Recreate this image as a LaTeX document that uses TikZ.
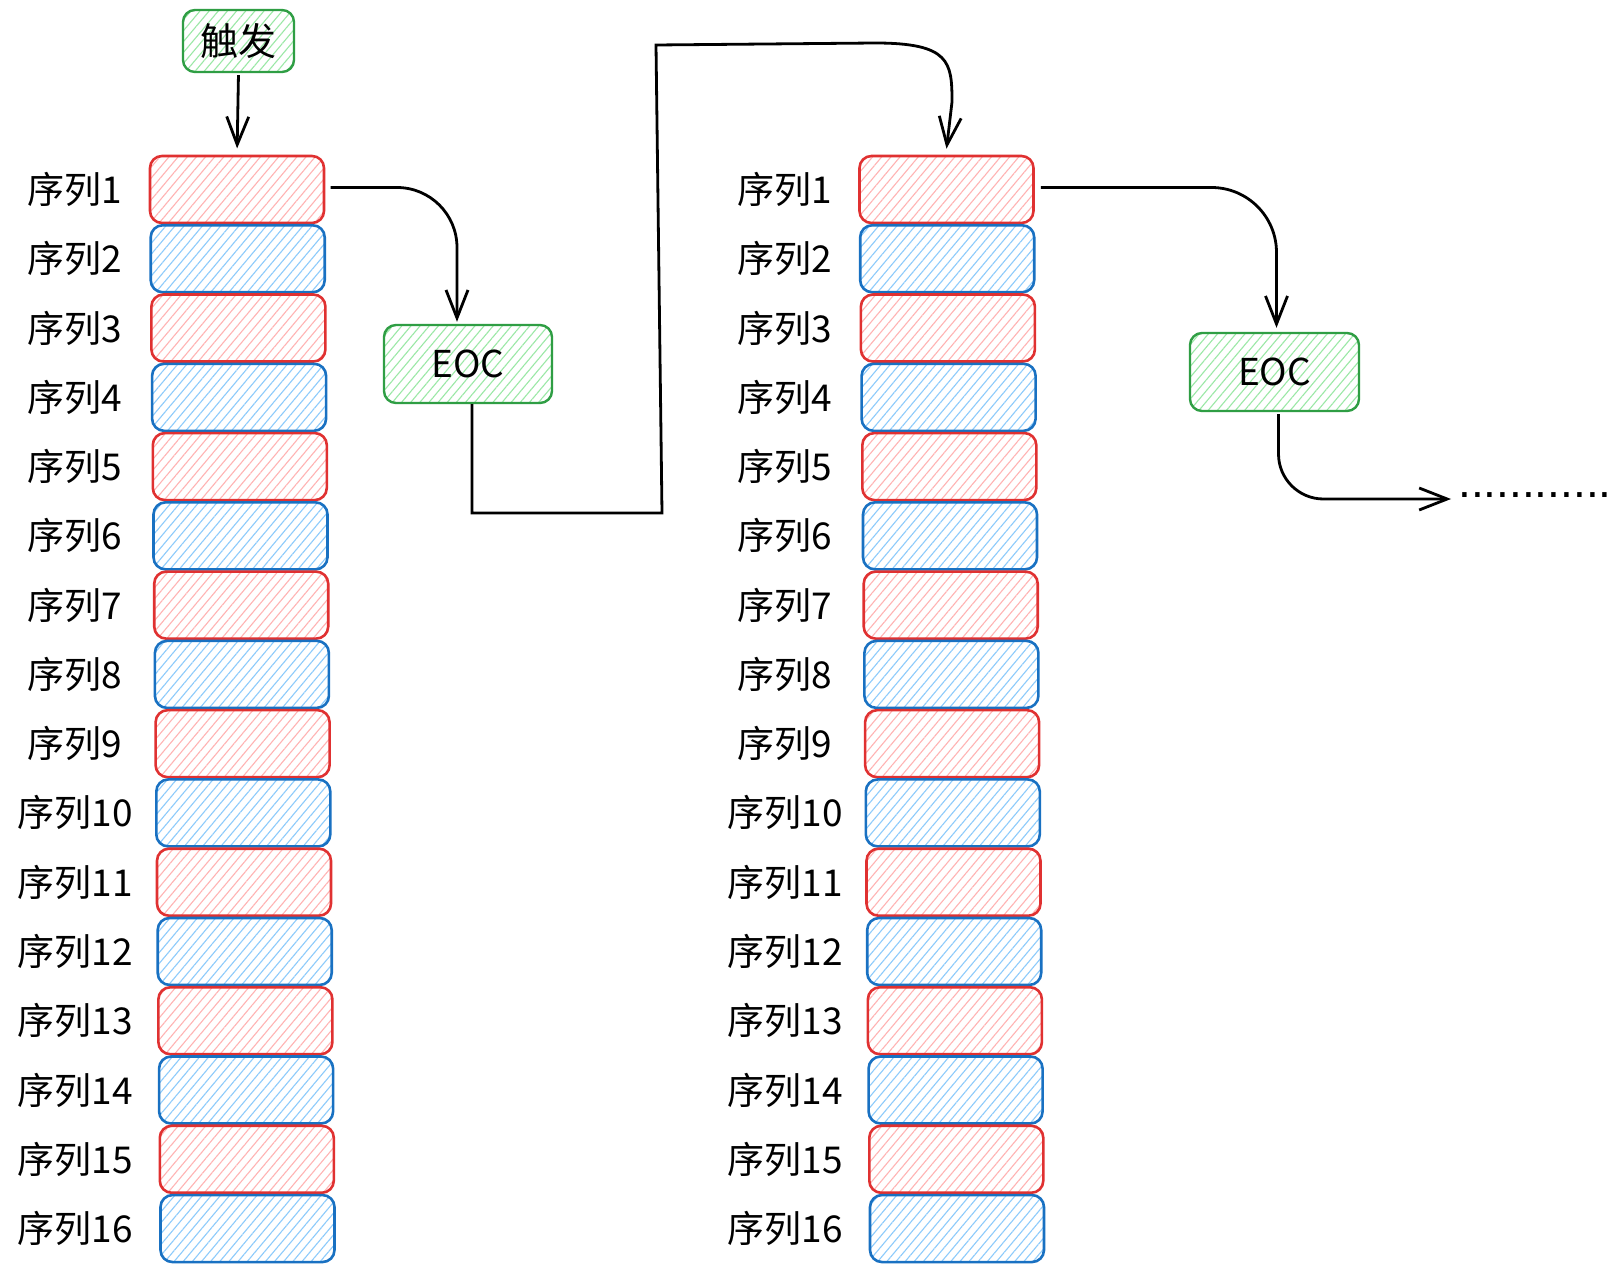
\documentclass[tikz,border=0pt]{standalone}
\usepackage{fontspec}
\setmainfont{Noto Sans CJK SC}
\newfontfamily\dotfont{Liberation Sans}
\usetikzlibrary{arrows.meta,patterns.meta}

\definecolor{redline}{HTML}{E03131}
\definecolor{redfill}{HTML}{FFB3B3}
\definecolor{blueline}{HTML}{1971C2}
\definecolor{bluefill}{HTML}{8DCBFB}
\definecolor{greenline}{HTML}{2F9E44}
\definecolor{greenfill}{HTML}{9BE8A6}

\tikzset{
  hatch/.style={pattern={Lines[angle=50,distance=7pt,line width=1.1pt]}},
  cell/.style={rectangle, rounded corners=12pt, minimum width=174pt,
    minimum height=67pt, inner sep=0pt, line width=2.6pt, hatch},
  tagbox/.style={rectangle, rounded corners=12pt, draw=greenline,
    line width=2.4pt, hatch, pattern color=greenfill, inner sep=0pt},
  lbl/.style={font=\fontsize{37}{44}\selectfont},
  arr/.style={line width=2.8pt, -{Straight Barb[length=28pt,width=22pt]}},
  dotsty/.style={font=\dotfont\fontsize{46}{50}\selectfont, inner sep=0pt}
}

\begin{document}
\begin{tikzpicture}[x=1pt,y=-1pt]
  \fill[white] (0,0) rectangle (1619,1273);
  \useasboundingbox (0,0) rectangle (1619,1273);

  % two columns of sixteen sequence cells
  \foreach \i in {1,...,16}{
    \pgfmathsetmacro\yc{189.5+(\i-1)*69.27}
    \pgfmathsetmacro\xa{237+(\i-1)*0.7}
    \pgfmathsetmacro\xb{946.5+(\i-1)*0.7}
    \ifodd\i
      \colorlet{cl}{redline}\colorlet{cf}{redfill}
    \else
      \colorlet{cl}{blueline}\colorlet{cf}{bluefill}
    \fi
    \node[cell, draw=cl, pattern color=cf] (L\i) at (\xa,\yc) {};
    \node[cell, draw=cl, pattern color=cf] (R\i) at (\xb,\yc) {};
    \node[lbl] (la\i) at (75,\yc) {序列\i};
    \node[lbl] (lb\i) at (785,\yc) {序列\i};
  }

  % trigger and end-of-conversion boxes
  \node[tagbox, minimum width=111pt, minimum height=62pt,
        font=\fontsize{38}{44}\selectfont] (trig) at (238.5,41) {触发};
  \node[tagbox, minimum width=168pt, minimum height=78pt, lbl] (eocL) at (468,364) {EOC};
  \node[tagbox, minimum width=169pt, minimum height=78pt, lbl] (eocR) at (1274.5,372) {EOC};

  % path helpers
  \coordinate (lowbend) at (662,513);
  \coordinate (highbend) at (656,45);
  \coordinate (topturn) at (875,43);
  \coordinate (topdown) at (952,102);
  \coordinate (more) at (1451,499);

  % connectors
  \draw[arr, shorten <=2pt, shorten >=7pt] (trig.south) -- (L1.north);
  \draw[arr, rounded corners=60pt] ([xshift=6pt,yshift=2pt]L1.east)
        -| ([xshift=-11pt,yshift=2pt]eocL.north);
  \draw[arr] ([xshift=4pt]eocL.south) |- (lowbend) -- (highbend) -- (topturn)
        .. controls (950,43) and (952,62) .. (topdown) -- ([yshift=6pt]R1.north);
  \draw[arr, rounded corners=65pt] ([xshift=6pt,yshift=2pt]R1.east)
        -| ([xshift=2pt,yshift=4pt]eocR.north);
  \draw[arr, rounded corners=45pt] ([xshift=4pt,yshift=-2pt]eocR.south) |- (more);

  \node[dotsty, anchor=base west] (dots) at (1458,497) {............};
\end{tikzpicture}
\end{document}
